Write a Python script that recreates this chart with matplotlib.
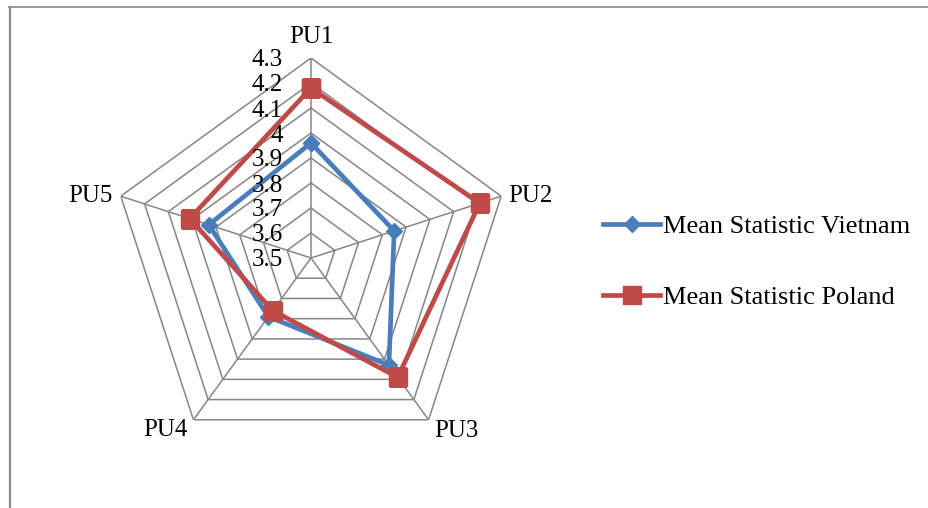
import numpy as np
import matplotlib
matplotlib.use("Agg")
import matplotlib.pyplot as plt
from matplotlib.lines import Line2D
from matplotlib.transforms import ScaledTranslation

plt.rcParams["font.family"] = ["Liberation Serif", "DejaVu Serif"]

CATEGORIES = ["PU1", "PU2", "PU3", "PU4", "PU5"]
VIETNAM = [3.96, 3.85, 4.03, 3.79, 3.93]
POLAND = [4.18, 4.21, 4.09, 3.76, 4.01]
RING_VALUES = [3.6, 3.7, 3.8, 3.9, 4.0, 4.1, 4.2, 4.3]
TICK_VALUES = [3.5, 3.6, 3.7, 3.8, 3.9, 4.0, 4.1, 4.2, 4.3]
TICK_LABELS = ["3.5", "3.6", "3.7", "3.8", "3.9", "4", "4.1", "4.2", "4.3"]
R_MIN, R_MAX = 3.5, 4.3

BLUE = "#4A7EBB"
RED = "#BE4B48"
GRID = "#868686"
AXIS_FONT = 18
LEGEND_FONT = 19

# label placement around the outer vertices, in pixels: (dx, dy, ha)
LABEL_OFFSETS = [(0, 15, "center"), (7, -6, "left"), (6, -17, "left"),
                 (-6, -16, "right"), (-8, -6, "right")]

fig = plt.figure(figsize=(9.29, 5.08), dpi=100)
ax = fig.add_axes([111 / 929, 50 / 508, 400 / 929, 400 / 508], projection="polar")
ax.set_theta_offset(np.pi / 2)
ax.set_theta_direction(-1)
ax.set_ylim(R_MIN, R_MAX)
ax.grid(False)
ax.spines["polar"].set_visible(False)
ax.set_yticks([])
ax.set_xticks([])

theta = np.linspace(0, 2 * np.pi, len(CATEGORIES), endpoint=False)
closed = np.append(theta, theta[0])

# pentagon rings and spokes
for v in RING_VALUES:
    ax.plot(closed, [v] * len(closed), color=GRID, lw=1.1, zorder=1)
for t in theta:
    ax.plot([t, t], [R_MIN, R_MAX], color=GRID, lw=1.1, zorder=1)

ax.plot(closed, VIETNAM + VIETNAM[:1], color=BLUE, lw=3.4, marker="D",
        markersize=8, zorder=3)
ax.plot(closed, POLAND + POLAND[:1], color=RED, lw=3.4, marker="s",
        markersize=13.5, zorder=4)

# category labels just outside the outer pentagon
for t, name, (dx, dy, ha) in zip(theta, CATEGORIES, LABEL_OFFSETS):
    tr = ax.transData + ScaledTranslation(dx / 100, dy / 100, fig.dpi_scale_trans)
    ax.text(t, R_MAX, name, transform=tr, ha=ha, va="baseline",
            fontsize=AXIS_FONT, clip_on=False)

# radial value labels left of the PU1 spoke
offset = ax.transData + ScaledTranslation(-0.28, -0.025, fig.dpi_scale_trans)
for v, lab in zip(TICK_VALUES, TICK_LABELS):
    ax.text(0, v, lab, transform=offset, ha="right", va="center",
            fontsize=AXIS_FONT, zorder=5, clip_on=False)

handles = [
    Line2D([], [], color=BLUE, lw=3.4, marker="D", markersize=8),
    Line2D([], [], color=RED, lw=3.4, marker="s", markersize=13.5),
]
fig.legend(handles, ["Mean Statistic Vietnam", "Mean Statistic Poland"],
           loc="upper left", bbox_to_anchor=(603 / 929, 1 - 215 / 508),
           frameon=False, fontsize=LEGEND_FONT, handlelength=2.16,
           handletextpad=0.1, labelspacing=1.8, borderpad=0, borderaxespad=0)

# chart frame (top and left edges)
fig.add_artist(Line2D([9 / 929, 1], [1 - 6.5 / 508] * 2, color="#8a8a8a", lw=1.2,
                      transform=fig.transFigure))
fig.add_artist(Line2D([10 / 929] * 2, [0, 1 - 6.5 / 508], color="#8a8a8a", lw=1.6,
                      transform=fig.transFigure))

fig.savefig("out.png", dpi=100)
